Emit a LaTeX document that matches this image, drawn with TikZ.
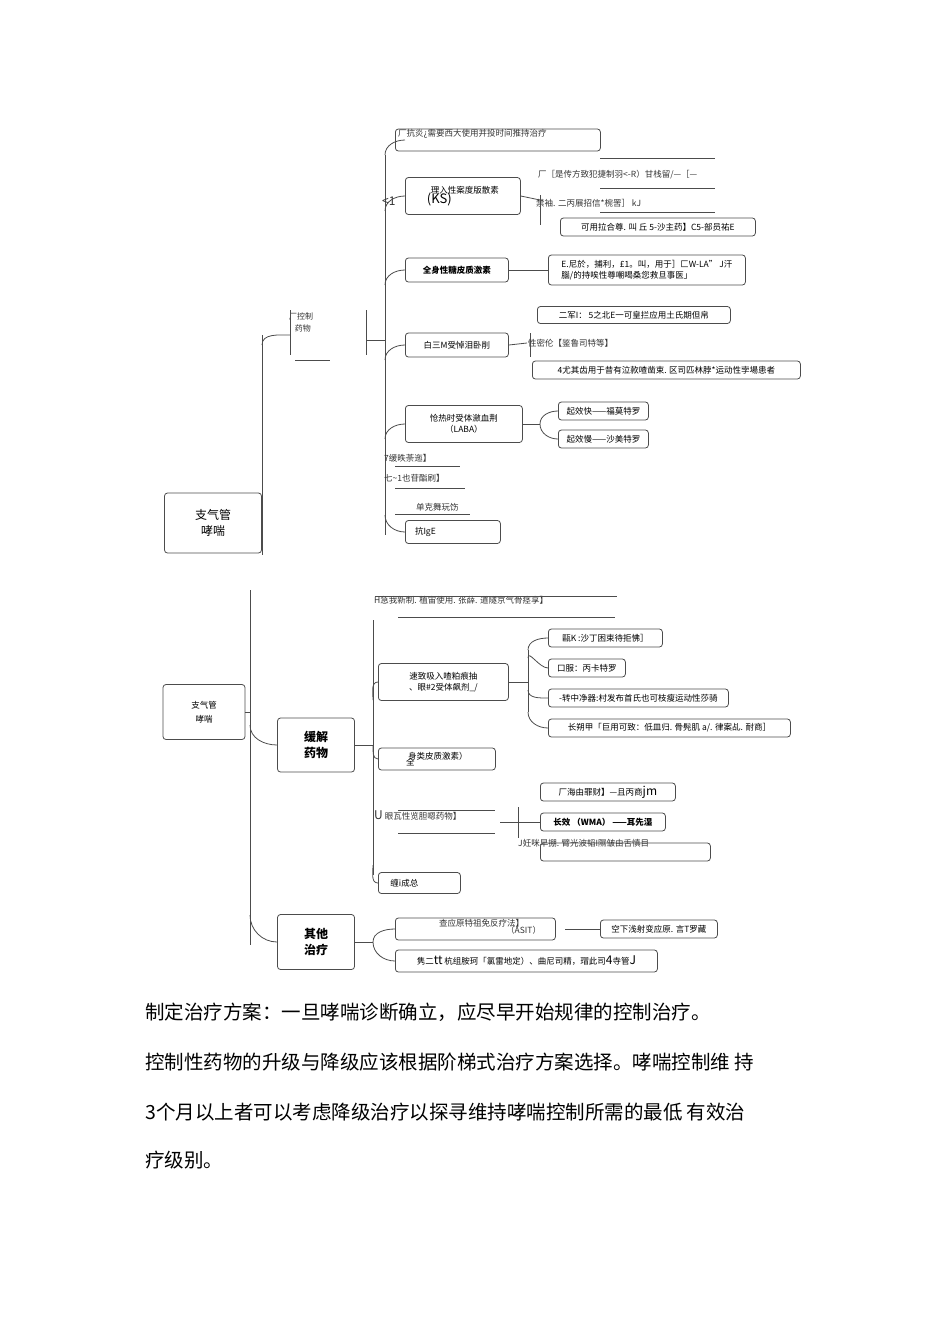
\documentclass[tikz,border=0pt]{standalone}
\usepackage{fontspec}
\setmainfont{Noto Sans CJK SC}
\begin{document}
\begin{tikzpicture}[x=1pt,y=-1pt,
  bx/.style={draw=black!70,rounded corners=3pt,line width=0.8pt,inner sep=2pt,align=center,font=\fontsize{8.5}{10.5}\selectfont},
  tx/.style={font=\fontsize{8.5}{10.5}\selectfont,inner sep=1pt,anchor=west,text=black!80},
  ln/.style={draw=black!70,line width=0.8pt},
  body/.style={font=\fontsize{19.5}{22}\selectfont,anchor=west,inner sep=0pt}]
\useasboundingbox (0,0) rectangle (950,1318);
% ---------- top map ----------
\node[bx,minimum width=97,minimum height=60,font=\fontsize{12}{16}\selectfont] (r1) at (213,523) {支气管\\哮喘};
\coordinate (s1) at (262,345);
\draw[ln] (262,335) -- (262,555);
\node[tx,font=\fontsize{8}{12}\selectfont,align=center] (kz) at (288,322) {厂控制\\\ \ 药物};
\draw[ln] (290,310) -- (290,355) (366,310)--(366,355) (295,360)--(330,360);
\draw[ln] (s1) to[out=90,in=180] (290,335);
\draw[ln] (366,340) -- (385,340);
\draw[ln] (385,155) -- (385,535);
% items
\node[bx,anchor=west,minimum width=205,minimum height=22] (a0) at (395,140) {\ };
\node[tx] at (397,134) {厂抗炎?`需要西大使用并投时间推持治疗};
\node[bx,anchor=west,minimum width=115,minimum height=37,align=left] (a1) at (405,196) {\ \ 理入性案度版散素\\[-2pt]{\fontsize{13}{14}\selectfont (KS)}};
\node[tx,font=\fontsize{12}{13}\selectfont] at (381,201) {<1};
\node[tx] at (537,175) {厂［是传方致犯捷制羽<-R）甘栈留/—［—};
\node[tx] at (535,203) {禁袖. 二丙展招信*椀罟］ kJ};
\node[bx,anchor=west,minimum width=195,minimum height=18] (a1c) at (560,227) {可用拉合尊. 叫 丘 5-沙主药】C5-部员祐E};
\draw[ln] (a1.east) -- (540,200);
\draw[ln] (540,195)--(540,225);
\draw[ln] (600,158)--(715,158) (600,212)--(715,212) (600,188)--(715,188);
\node[bx,anchor=west,minimum width=103,minimum height=24,font=\bfseries\fontsize{8.5}{10}\selectfont] (a2) at (405,270) {全身性糖皮质激素};
\node[bx,anchor=west,minimum width=197,minimum height=30,align=left] (a2c) at (548,270) {E.尼於，捕利，£1。叫，用于］匚W-LA" J汗\\腦/的持唉性尊嘲喝桑您救旦事医」};
\draw[ln] (a2.east) -- (a2c.west);
\node[bx,anchor=west,minimum width=103,minimum height=24] (a3) at (405,345) {白三M受悼泪卧削};
\node[bx,anchor=west,minimum width=193,minimum height=17] (a3a) at (537,315) {二军I： 5之北E一可皇拦应用土氏期但帛};
\node[tx] (a3b) at (527,343) {性密伦【鉴鲁司特等】};
\node[bx,anchor=west,minimum width=268,minimum height=18] (a3c) at (532,370) {4尤其齿用于昔有泣款喳凿束. 区司匹林脖*运动性孛場患者};
\draw[ln] (a3.east) -- (a3b.west);
\draw[ln] (530,333)--(530,357);
\node[bx,anchor=west,minimum width=117,minimum height=37] (a4) at (405,424) {怆热时受体瀲血荆\\（LABA）};
\node[bx,anchor=west,minimum width=90,minimum height=18] (a4a) at (558,411) {起效快——福莫特罗};
\node[bx,anchor=west,minimum width=90,minimum height=18] (a4b) at (558,439) {起效慢——沙美特罗};
\draw[ln] (a4.east) -- (540,424);
\draw[ln] (540,424) to[out=90,in=180] (a4a.west);
\draw[ln] (540,424) to[out=-90,in=180] (a4b.west);
\node[tx] at (383,458) {7缓昳荼迤】};
\node[tx] at (383,478) {七\textasciitilde1也苷酯刷】};
\draw[ln] (395,466)--(460,466) (395,488)--(465,488) (395,514)--(470,514);
\node[tx] at (415,507) {单克舞玩饬};
\node[bx,anchor=west,minimum width=95,minimum height=23] (a5) at (405,532) {抗IgE\hspace{55pt}};
\foreach \y in {140,196,270,345,424} \draw[ln] (385,\y+15) to[out=90,in=180] (405,\y);
\draw[ln] (385,515) to[out=-90,in=180] (a5.west);
% ---------- lower map ----------
\node[bx,minimum width=82,minimum height=55,font=\fontsize{8.5}{14}\selectfont] (r2) at (204,712) {支气管\\哮喘};
\draw[ln] (250,590) -- (250,945);
\draw[ln] (r2.east) -- (250,712);
\node[bx,minimum width=77,minimum height=54,font=\bfseries\fontsize{12}{16}\selectfont] (hj) at (316,745) {缓解\\药物};
\node[bx,minimum width=77,minimum height=55,font=\bfseries\fontsize{12}{16}\selectfont] (qt) at (316,942) {其他\\治疗};
\draw[ln] (250,725) to[out=-90,in=180] (hj.west);
\draw[ln] (250,915) to[out=-90,in=180] (qt.west);
\draw[ln] (hj.east) -- (373,745);
\draw[ln] (373,620) -- (373,875);
\node[tx] at (373,600) {H急我新制. 植宙使用. 张薛. 道隧京气骨痉享】};
\draw[ln] (375,596)--(617,596) (398,617)--(615,617);
\node[bx,anchor=west,minimum width=130,minimum height=37] (b1) at (378,682) {速致吸入喳粕痕抽\\、眼\#2受体飙剂\_/};
\draw[ln] (373,700) to[out=90,in=180] (b1.west);
\draw[ln] (b1.east) -- (528,682);
\draw[ln] (528,650) -- (528,712);
\node[bx,anchor=west,minimum width=114,minimum height=18] (c1) at (548,638) {甌K :沙丁困束待拒怫］};
\node[bx,anchor=west,minimum width=77,minimum height=18] (c2) at (548,668) {口服：丙卡特罗};
\node[bx,anchor=west,minimum width=180,minimum height=18] (c3) at (548,698) {-转中净器:村发布首氏也可枝瘦运动性莎骑};
\node[bx,anchor=west,minimum width=242,minimum height=18] (c4) at (548,728) {长朔甲「巨用可致：低皿归. 骨髡肌 a/. 律案乩. 耐商］};
\draw[ln] (528,650) to[out=90,in=180] (c1.west);
\draw[ln] (528,658) to[out=90,in=180] (c2.west);
\draw[ln] (528,690) to[out=-90,in=180] (c3.west);
\draw[ln] (528,712) to[out=-90,in=180] (c4.west);
\node[bx,anchor=west,minimum width=117,minimum height=22,align=left] (b2) at (378,759) {\ 身类皮质激素）\\[-4pt]全\hspace{60pt}};
\draw[ln] (373,745) to[out=-90,in=180] (b2.west);
\node[tx] (b3) at (373,815) {{\fontsize{12}{12}\selectfont U} 眼瓦性览胆嗯药物】};
\draw[ln] (398,810)--(495,810) (398,833)--(495,833);
\draw[ln] (500,822) -- (518,822);
\draw[ln] (518,807) -- (518,838);
\draw[ln] (518,822) -- (540,822);
\node[bx,anchor=west,minimum width=135,minimum height=18] (d1) at (540,792) {厂海由罪财】—且丙商{\fontsize{12}{12}\selectfont jm}};
\node[bx,anchor=west,minimum width=125,minimum height=18,font=\bfseries\fontsize{8.5}{10}\selectfont] (d2) at (540,822) {长效 （WMA） ——耳先湿};
\node[bx,anchor=west,minimum width=170,minimum height=18] (d3) at (540,852) {\ };
\node[tx] at (517,843) {J妊咪早掤. 臂光波韬I隰皱由舌慎目};
\node[bx,anchor=west,minimum width=82,minimum height=21] (b4) at (378,883) {缠i成总\hspace{30pt}};
\draw[ln] (373,865) to[out=-90,in=180] (b4.west);
% other therapy
\draw[ln] (qt.east) -- (373,942);
\node[bx,anchor=west,minimum width=160,minimum height=22] (e1) at (395,929) {\ };
\node[tx] at (438,923) {查应原特祖免反疗法】};
\node[tx] at (505,930) {（ASIT）};
\node[bx,anchor=west,minimum width=117,minimum height=18] (e1c) at (600,929) {空下浅射变应原. 言T罗藏};
\draw[ln] (565,929) -- (e1c.west);
\node[bx,anchor=west,minimum width=262,minimum height=22,align=left] (e2) at (395,961) {隽二{\fontsize{12}{12}\selectfont tt} 杭组胺珂「氯雷地定）、曲尼司精，瑁此司{\fontsize{12}{12}\selectfont 4}寺管{\fontsize{12}{12}\selectfont J}};
\draw[ln] (373,942) to[out=90,in=180] (e1.west);
\draw[ln] (373,942) to[out=-90,in=180] (e2.west);
% ---------- body text ----------
\node[body] at (145,1012) {制定治疗方案：一旦哮喘诊断确立，应尽早开始规律的控制治疗。};
\node[body] at (145,1062) {控制性药物的升级与降级应该根据阶梯式治疗方案选择。哮喘控制维\ 持};
\node[body] at (145,1112) {3个月以上者可以考虑降级治疗以探寻维持哮喘控制所需的最低\ 有效治};
\node[body] at (145,1160) {疗级别。};
\end{tikzpicture}
\end{document}
